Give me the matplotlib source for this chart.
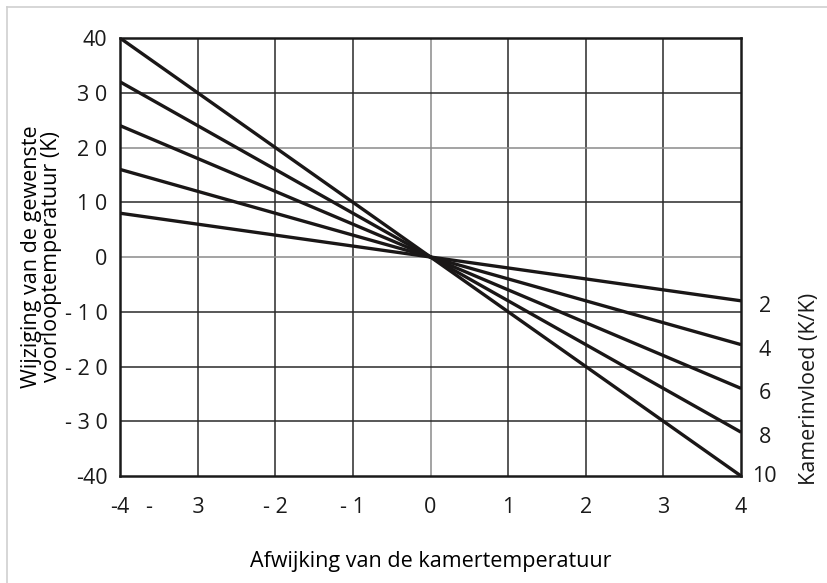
import numpy as np
import matplotlib.pyplot as plt
import matplotlib.transforms as mtransforms
from matplotlib.lines import Line2D

plt.rcParams['font.family'] = ['Open Sans', 'DejaVu Sans']

# kamerinvloed (K/K) en bereik van de afwijking
kamerinvloed = [2, 4, 6, 8, 10]
x_bereik = np.array([-4, 4])

x_ticks = [-4, -3, -2, -1, 0, 1, 2, 3, 4]
x_labels = ['-4', '-       3', '- 2', '- 1', '0', '1', '2', '3', '4']
y_ticks = [-40, -30, -20, -10, 0, 10, 20, 30, 40]
y_labels = ['-40', '- 3 0', '- 2 0', '- 1 0', '0', '1 0', '2 0', '3 0', '40']

fs = 15.5

fig = plt.figure(figsize=(8.27, 5.83), dpi=100)
ax = fig.add_axes([0.1451, 0.1835, 0.751, 0.7513])

# lichte kader links en boven
fig.add_artist(Line2D([0.0085, 0.0085], [0, 0.988], transform=fig.transFigure,
                      color='#cfcfcf', lw=1.2))
fig.add_artist(Line2D([0.0085, 1], [0.988, 0.988], transform=fig.transFigure,
                      color='#cfcfcf', lw=1.2))

# raster
for xv in x_ticks[1:-1]:
    c = '#8a8a8a' if xv == 0 else '#2a2a2a'
    ax.axvline(xv, color=c, lw=1.1, zorder=1)
for yv in y_ticks[1:-1]:
    c = '#8a8a8a' if yv in (0, 20) else '#2a2a2a'
    ax.axhline(yv, color=c, lw=1.1, zorder=1)

for k in kamerinvloed:
    ax.plot(x_bereik, -k * x_bereik, color='#1a1717', lw=2.4, zorder=3,
            solid_capstyle='butt')
    ax.annotate(str(k), xy=(4, -k * 4), xytext=(17, -4 if k < 10 else 0),
                textcoords='offset points', ha='center', va='center',
                fontsize=fs, color='#1a1a1a', annotation_clip=False)

ax.set_xlim(-4, 4)
ax.set_ylim(-40, 40)
ax.set_xticks(x_ticks)
ax.set_xticklabels(x_labels)
ax.set_yticks(y_ticks)
ax.set_yticklabels(y_labels)
ax.tick_params(length=0, labelsize=fs, colors='#1a1a1a')
ax.tick_params(axis='x', pad=15)
ax.tick_params(axis='y', pad=9)

# de "-   3" rechts uitlijnen zodat het cijfer op de lijn staat
lbl = ax.get_xticklabels()[1]
lbl.set_horizontalalignment('right')
lbl.set_transform(lbl.get_transform() +
                  mtransforms.ScaledTranslation(5 / 72, 0, fig.dpi_scale_trans))

for s in ax.spines.values():
    s.set_color('#1a1a1a')
    s.set_linewidth(1.8)

ax.set_xlabel('Afwijking van de kamertemperatuur', fontsize=fs, labelpad=24)
ax.set_ylabel('Wijziging van de gewenste\nvoorlooptemperatuur (K)', fontsize=fs,
              labelpad=2, linespacing=0.95)

fig.text(0.979, 0.333, 'Kamerinvloed (K/K)', rotation=90, ha='center', va='center',
         fontsize=fs, color='#1a1a1a')

fig.savefig('out.png', dpi=100)
